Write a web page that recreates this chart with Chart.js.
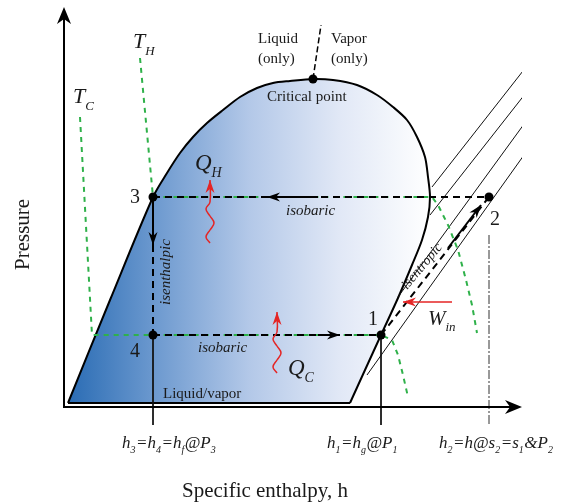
<!DOCTYPE html>
<html>
<head>
<meta charset="utf-8">
<script src="https://cdn.jsdelivr.net/npm/chart.js@4"></script>
<style>
  html, body { margin: 0; padding: 0; background: #fff; }
  canvas { display: block; }
</style>
</head>
<body>
<canvas id="chart" width="579" height="504"></canvas>
<script>
// --- diagram values (enthalpy h on x, pressure P on y, arbitrary units) ---
const domeH = [4, 46, 89, 103, 116, 129, 143, 159, 176, 193, 209, 226, 249, 269, 293, 313, 329, 343, 353, 361, 364, 366, 364, 358, 348, 334, 317, 301, 286];
const domeP = [4, 107, 210, 234, 254, 270, 284, 297, 310, 319, 324, 326, 328, 327, 322, 312, 300, 287, 270, 250, 230, 210, 190, 167, 142, 109, 72, 37, 4];
const baseH = [4, 286];
const baseP = [4, 4];

// states 1..4 and the critical point
const stateH = [317, 425, 89, 89];
const stateP = [72, 210, 210, 72];
const critH = [249, 257];
const critP = [328, 382];

// isotherms
const hotH = [76, 89, 368, 374, 384, 394, 402, 408, 413];
const hotP = [349, 210, 210, 202, 182, 157, 127, 102, 74];
const coldH = [16, 28, 317, 328, 334, 339, 344];
const coldP = [290, 72, 72, 67, 52, 32, 10];

// isentropes in the vapour region
const isenH = [[368, 466], [366, 465], [334, 463], [303, 465]];
const isenP = [[220, 345], [192, 318], [110, 287], [32, 259]];

// process direction arrows
const arrowH = [[254, 203], [254, 276], [89, 89], [384, 417]];
const arrowP = [[210, 210], [72, 72], [210, 162], [159, 202]];

// heat / work arrows
const qHotH = [146, 142, 146, 150, 146, 142, 146, 146];
const qHotP = [164, 170, 177, 184, 191, 198, 205, 227];
const qColdH = [213, 209, 213, 217, 213, 209, 213, 213];
const qColdP = [34, 40, 47, 54, 61, 68, 75, 95];
const workH = [388, 339];
const workP = [105, 105];

const pts = (hs, ps) => hs.map((h, i) => ({ x: h, y: ps[i] }));

const SERIF = '"Liberation Serif", "Times New Roman", serif';
const GREEN = '#2fb14a';
const RED = '#e42525';

function line(data, color, width, dash, extra) {
  return Object.assign({
    data: data, showLine: true, borderColor: color, borderWidth: width,
    borderDash: dash || [], pointRadius: 0, tension: 0, fill: false
  }, extra || {});
}

const datasets = [];
datasets.push(line(pts(domeH, domeP), '#000', 2, null, { tension: 0.3, order: 20 }));
datasets.push(line(pts(baseH, baseP), '#000', 2, null, { order: 20 }));
isenH.forEach((h, i) => datasets.push(line(pts(h, isenP[i]), '#111', 1, null, { order: 15 })));
datasets.push(line(pts(hotH, hotP), GREEN, 2, [5, 5], { order: 12 }));
datasets.push(line(pts(coldH, coldP), GREEN, 2, [5, 5], { order: 12 }));
datasets.push(line(pts(critH, critP), '#000', 1.5, [6, 3], { order: 10 }));
datasets.push(line(pts([stateH[2], stateH[1]], [stateP[2], stateP[1]]), '#000', 2, [7, 5], { order: 10 }));
datasets.push(line(pts([stateH[3], stateH[0]], [stateP[3], stateP[0]]), '#000', 2, [7, 5], { order: 10 }));
datasets.push(line(pts([stateH[2], stateH[3]], [stateP[2], stateP[3]]), '#000', 2, [7, 5], { order: 10 }));
datasets.push(line(pts([stateH[0], stateH[1]], [stateP[0], stateP[1]]), '#000', 2, [7, 5], { order: 10 }));
// drop lines to the enthalpy axis
datasets.push(line(pts([89, 89], [72, -18]), '#111', 1, null, { clip: false, order: 14 }));
datasets.push(line(pts([317, 317], [72, -18]), '#111', 1, null, { clip: false, order: 14 }));
datasets.push(line(pts([425, 425], [172, -18]), '#333', 1, [9, 2, 2, 2], { clip: false, order: 14 }));
arrowH.forEach((h, i) => datasets.push(line(pts(h, arrowP[i]), '#000', 2, null, { arrow: true, order: 5 })));
datasets.push(line(pts(qHotH, qHotP), RED, 1.5, null, { tension: 0.4, arrow: true, order: 5 }));
datasets.push(line(pts(qColdH, qColdP), RED, 1.5, null, { tension: 0.4, arrow: true, order: 5 }));
datasets.push(line(pts(workH, workP), RED, 1.5, null, { arrow: true, order: 5 }));
datasets.push({
  data: pts(stateH.concat([critH[0]]), stateP.concat([critP[0]])),
  showLine: false, pointRadius: 4.5, pointBackgroundColor: '#000',
  pointBorderColor: '#000', pointBorderWidth: 0, order: 1
});

// --- text labels: [h, P, runs, size, italic, rotation(deg)] ---
const labels = [
  [194, 364, [['Liquid']], 15, false, 0],
  [194, 344, [['(only)']], 15, false, 0],
  [267, 364, [['Vapor']], 15, false, 0],
  [267, 344, [['(only)']], 15, false, 0],
  [203, 306, [['Critical point']], 15, false, 0],
  [99, 9, [['Liquid/vapor']], 15, false, 0],
  [222, 192, [['isobaric']], 15, true, 0],
  [134, 55, [['isobaric']], 15, true, 0],
  [106, 102, [['isenthalpic']], 15, true, -90],
  [343, 117, [['isentropic']], 14, true, -50],
  [304, 82, [['1']], 20, false, 0],
  [426, 182, [['2']], 20, false, 0],
  [66, 204, [['3']], 20, false, 0],
  [66, 50, [['4']], 20, false, 0],
  [131, 237, [['Q'], ['H', 1]], 23, true, 0],
  [224, 32, [['Q'], ['C', 1]], 23, true, 0],
  [364, 82, [['W'], ['in', 1]], 21, true, 0],
  [69, 359, [['T'], ['H', 1]], 22, true, 0],
  [9, 304, [['T'], ['C', 1]], 22, true, 0],
  [58, -41, [['h'], ['3', 1], ['=h'], ['4', 1], ['=h'], ['f', 1], ['@P'], ['3', 1]], 17, true, 0],
  [263, -41, [['h'], ['1', 1], ['=h'], ['g', 1], ['@P'], ['1', 1]], 17, true, 0],
  [375, -41, [['h'], ['2', 1], ['=h@s'], ['2', 1], ['=s'], ['1', 1], ['&P'], ['2', 1]], 17, true, 0],
  [118, -90, [['Specific enthalpy, h']], 21, false, 0],
  [-35, 137, [['Pressure']], 21, false, -90]
];

function arrowHead(ctx, x, y, ang, len, half, color) {
  ctx.save();
  ctx.translate(x, y);
  ctx.rotate(ang);
  ctx.beginPath();
  ctx.moveTo(0, 0);
  ctx.lineTo(-len, -half);
  ctx.lineTo(-len * 0.7, 0);
  ctx.lineTo(-len, half);
  ctx.closePath();
  ctx.fillStyle = color;
  ctx.fill();
  ctx.restore();
}

function drawRuns(ctx, x, y, runs, size, italic) {
  for (const [t, sub] of runs) {
    const s = sub ? Math.round(size * 0.6) : size;
    ctx.font = (italic ? 'italic ' : '') + s + 'px ' + SERIF;
    ctx.fillText(t, x, y + (sub ? size * 0.3 : 0));
    x += ctx.measureText(t).width + (sub ? 0.5 : 0);
  }
}

const diagramPlugin = {
  id: 'diagram',
  beforeDatasetsDraw(chart) {
    // gradient fill of the two-phase dome
    const meta = chart.getDatasetMeta(0);
    const el = meta.dataset;
    if (el && el.updateControlPoints) el.updateControlPoints(chart.chartArea, 'x');
    const p = meta.data;
    const ctx = chart.ctx;
    const X = v => chart.scales.x.getPixelForValue(v);
    const g = ctx.createLinearGradient(X(4), 0, X(366), 0);
    g.addColorStop(0, '#2a6cb4');
    g.addColorStop(0.25, '#6f9bd0');
    g.addColorStop(0.5, '#b3c8e8');
    g.addColorStop(0.75, '#e1e8f6');
    g.addColorStop(1, '#ffffff');
    ctx.save();
    ctx.beginPath();
    ctx.moveTo(p[0].x, p[0].y);
    for (let i = 1; i < p.length; i++) {
      const a = p[i - 1], b = p[i];
      if (a.cp2x !== undefined && b.cp1x !== undefined) {
        ctx.bezierCurveTo(a.cp2x, a.cp2y, b.cp1x, b.cp1y, b.x, b.y);
      } else {
        ctx.lineTo(b.x, b.y);
      }
    }
    ctx.closePath();
    ctx.fillStyle = g;
    ctx.fill();
    ctx.restore();
  },
  afterDatasetsDraw(chart) {
    const ctx = chart.ctx;
    const xs = chart.scales.x, ys = chart.scales.y;
    const X = v => xs.getPixelForValue(v);
    const Y = v => ys.getPixelForValue(v);

    // arrowheads at the end of flagged datasets
    chart.data.datasets.forEach((ds, i) => {
      if (!ds.arrow) return;
      const d = chart.getDatasetMeta(i).data;
      const a = d[d.length - 2], b = d[d.length - 1];
      const ang = Math.atan2(b.y - a.y, b.x - a.x);
      arrowHead(ctx, b.x, b.y, ang, 13, 4.5, ds.borderColor);
    });

    // axes with arrowheads
    ctx.save();
    ctx.strokeStyle = '#000';
    ctx.lineWidth = 2;
    ctx.beginPath();
    ctx.moveTo(X(0), Y(400) + 10);
    ctx.lineTo(X(0), Y(0));
    ctx.lineTo(X(458) - 10, Y(0));
    ctx.stroke();
    ctx.restore();
    arrowHead(ctx, X(0), Y(400), -Math.PI / 2, 17, 7, '#000');
    arrowHead(ctx, X(458), Y(0), 0, 17, 7, '#000');

    // labels
    ctx.save();
    ctx.fillStyle = '#1a1a1a';
    ctx.textBaseline = 'alphabetic';
    ctx.textAlign = 'left';
    for (const [h, pr, runs, size, italic, rot] of labels) {
      ctx.save();
      ctx.translate(X(h), Y(pr));
      if (rot) ctx.rotate(rot * Math.PI / 180);
      drawRuns(ctx, 0, 0, runs, size, italic);
      ctx.restore();
    }
    ctx.restore();
  }
};

new Chart(document.getElementById('chart'), {
  type: 'scatter',
  data: { datasets: datasets },
  options: {
    responsive: false,
    animation: false,
    layout: { padding: { left: 64, right: 57, top: 7, bottom: 97 } },
    scales: {
      x: { type: 'linear', min: 0, max: 458, display: false },
      y: { type: 'linear', min: 0, max: 400, display: false }
    },
    plugins: { legend: { display: false }, tooltip: { enabled: false } },
    events: []
  },
  plugins: [diagramPlugin]
});
</script>
</body>
</html>
